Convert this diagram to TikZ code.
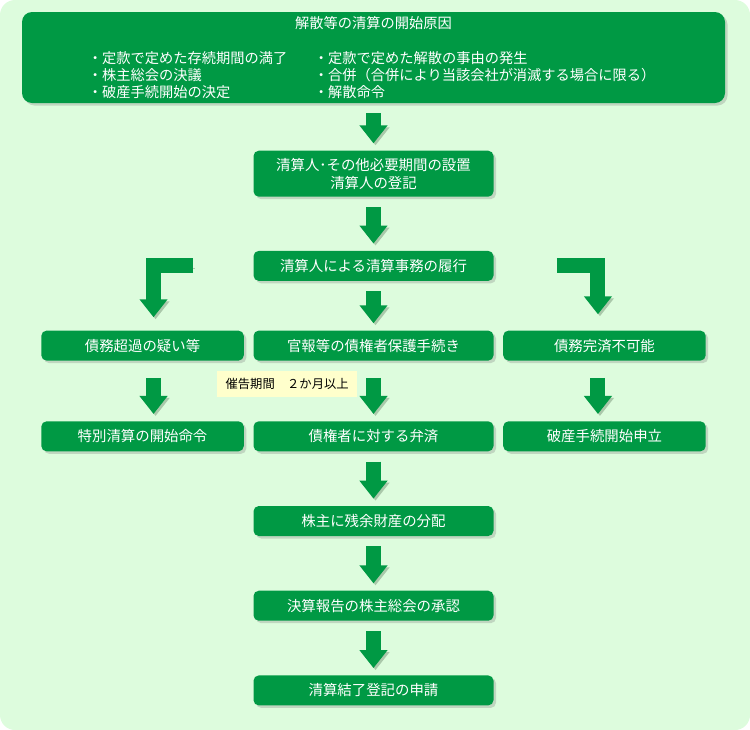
\documentclass[tikz,border=0pt]{standalone}
\usepackage{fontspec}
\setmainfont{Noto Sans CJK JP}
\usepackage{tikz}
\usetikzlibrary{arrows.meta, positioning, calc, shadows}
\definecolor{mygreen}{RGB}{0,153,68}
\definecolor{mybg}{RGB}{221,252,221}
\definecolor{mynote}{RGB}{255,255,204}
\definecolor{myshade}{RGB}{170,200,170}
\tikzset{
  stepbox/.style={rectangle, fill=mygreen, text=white,
    minimum width=4.8cm, minimum height=0.6cm, inner sep=0pt,
    align=center, font=\fontsize{8.2}{10.2}\selectfont, rounded corners=3pt,
    drop shadow={shadow xshift=0.05cm, shadow yshift=-0.05cm, opacity=0.3}},
  sidebox/.style={stepbox, minimum width=4.05cm},
  topbox/.style={rectangle, fill=mygreen, minimum width=14.06cm,
    minimum height=1.82cm, rounded corners=0.2cm,
    drop shadow={shadow xshift=0.05cm, shadow yshift=-0.05cm, opacity=0.3}},
  toptext/.style={text=white, inner sep=0pt, font=\fontsize{8.1}{9.4}\selectfont},
  notebox/.style={rectangle, fill=mynote, text=black, minimum width=2.8cm,
    minimum height=0.52cm, inner sep=0pt, font=\fontsize{7}{8}\selectfont},
  bigarrow/.style={-{Triangle[width=0.54cm, length=0.36cm]}, line width=0.3cm,
    color=mygreen, preaction={draw=myshade, transform canvas={xshift=0.04cm, yshift=-0.04cm}}},
  downarrow/.style={bigarrow, shorten <=0.2cm, shorten >=0.14cm}
}
\begin{document}
\begin{tikzpicture}
  \useasboundingbox (0,0) rectangle (15,-14.6);
  \fill[mybg, rounded corners=0.3cm] (0,0) rectangle (15,-14.6);

  % top box
  \node[topbox] (cause) at (7.47,-1.15) {};
  \node[toptext] (causetitle) at ([yshift=-0.22cm]cause.north) {解散等の清算の開始原因};
  \node[toptext, align=left, anchor=north west] (causeleft) at ([xshift=1.32cm, yshift=-0.8cm]cause.north west)
    {・定款で定めた存続期間の満了\\・株主総会の決議\\・破産手続開始の決定};
  \node[toptext, align=left, anchor=north west] (causeright) at ([xshift=5.84cm, yshift=-0.8cm]cause.north west)
    {・定款で定めた解散の事由の発生\\・合併（合併により当該会社が消滅する場合に限る）\\・解散命令};

  % main flow
  \node[stepbox, minimum height=0.92cm, below=0.94cm of cause] (appoint) {清算人･その他必要期間の設置\\清算人の登記};
  \node[stepbox, below=1.07cm of appoint] (duty) {清算人による清算事務の履行};
  \node[stepbox, below=0.98cm of duty] (notice) {官報等の債権者保護手続き};
  \node[sidebox, left=0.18cm of notice] (excess) {債務超過の疑い等};
  \node[sidebox, right=0.18cm of notice] (impossible) {債務完済不可能};
  \node[stepbox, below=1.2cm of notice] (repay) {債権者に対する弁済};
  \node[sidebox, left=0.18cm of repay] (special) {特別清算の開始命令};
  \node[sidebox, right=0.18cm of repay] (bankrupt) {破産手続開始申立};
  \node[stepbox, below=1.08cm of repay] (distrib) {株主に残余財産の分配};
  \node[stepbox, below=1.08cm of distrib] (approve) {決算報告の株主総会の承認};
  \node[stepbox, below=1.08cm of approve] (register) {清算結了登記の申請};

  \node[notebox] (period) at ([xshift=0.68cm, yshift=0.74cm]repay.north west) {催告期間　２か月以上};

  \coordinate[left=1.2cm of duty.west] (ltail);
  \coordinate[right=1.26cm of duty.east] (rtail);

  \draw[downarrow] (cause) -- (appoint);
  \draw[downarrow] (appoint) -- (duty);
  \draw[downarrow] (duty) -- (notice);
  \draw[bigarrow] (ltail) -| ([xshift=0.22cm, yshift=0.26cm]excess.north);
  \draw[bigarrow] (rtail) -| ([xshift=-0.13cm, yshift=0.32cm]impossible.north);
  \draw[downarrow, shorten <=0.34cm] (notice) -- (repay);
  \draw[downarrow, shorten <=0.34cm] ([xshift=0.22cm]excess.south) -- ([xshift=0.22cm]special.north);
  \draw[downarrow, shorten <=0.34cm] ([xshift=-0.13cm]impossible.south) -- ([xshift=-0.13cm]bankrupt.north);
  \draw[downarrow] (repay) -- (distrib);
  \draw[downarrow] (distrib) -- (approve);
  \draw[downarrow] (approve) -- (register);
\end{tikzpicture}
\end{document}
